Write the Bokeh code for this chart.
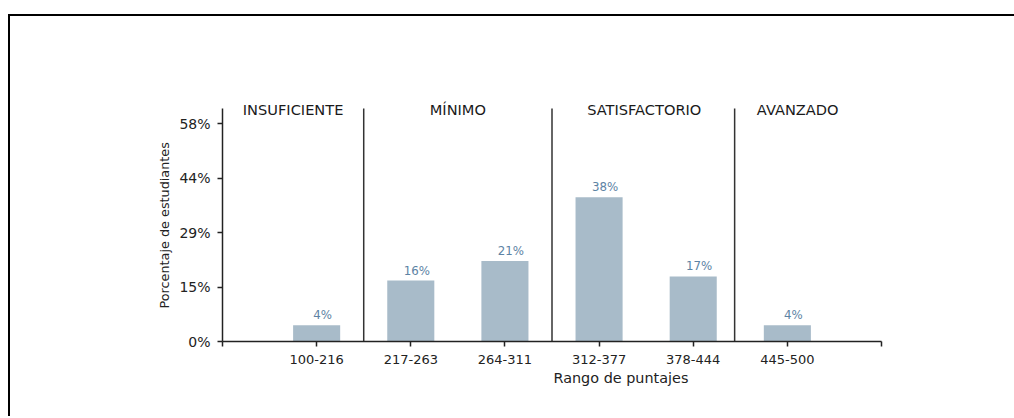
from bokeh.plotting import figure
from bokeh.models import ColumnDataSource, LabelSet, FixedTicker, Range1d, Title
from bokeh.core.properties import value
from bokeh.embed import file_html
from bokeh.resources import INLINE

# ---- data ----
score_ranges = ["100-216", "217-263", "264-311", "312-377", "378-444", "445-500"]
percentages = [4.3, 16.2, 21.4, 38.4, 17.3, 4.3]
levels = ["INSUFICIENTE", "MÍNIMO", "SATISFACTORIO", "AVANZADO"]
level_label_x = [-0.25, 1.5, 3.48, 5.11]
level_separators = [0.5, 2.5, 4.44]
y_ticks = [0, 14.5, 29, 43.5, 58]
y_tick_labels = ["0%", "15%", "29%", "44%", "58%"]
x_title = "Rango de puntajes"
y_title = "Porcentaje de estudiantes"

FONT = "DejaVu Sans"
Y_TOP = 62          # top of the axis spine / separators
Y_VIEW = 64.4       # visible range (room for level titles)
x_pos = list(range(len(score_ranges)))

src = ColumnDataSource(dict(
    x=x_pos,
    top=percentages,
    lbl=[f"{round(v)}%" for v in percentages],
))

p = figure(
    output_backend="svg", toolbar_location=None,
    frame_width=659, frame_height=242,
    min_border_left=212, min_border_right=133,
    min_border_top=83, min_border_bottom=75,
    x_range=Range1d(-1, 6), y_range=Range1d(0, Y_VIEW),
)
p.styles = {"border-top": "2px solid black", "border-left": "2px solid black",
            "margin-top": "14px", "margin-left": "8px"}
p.outline_line_color = None
p.xgrid.grid_line_color = None
p.ygrid.grid_line_color = None

p.vbar(x="x", top="top", width=0.5, source=src, fill_color="#a8bbc9",
       line_color=None)

p.add_layout(LabelSet(x="x", y="top", text="lbl", source=src, x_offset=6, y_offset=6,
                      text_align="center", text_baseline="alphabetic",
                      text_color="#5d83a4", text_font=value(FONT),
                      text_font_size="11.8px"))

p.segment(x0=level_separators, y0=[0] * len(level_separators),
          x1=level_separators, y1=[Y_TOP] * len(level_separators),
          line_color="#333333", line_width=1.5)

lsrc = ColumnDataSource(dict(x=level_label_x, y=[60.4] * len(levels), t=levels))
p.add_layout(LabelSet(x="x", y="y", text="t", source=lsrc, text_align="center",
                      text_baseline="alphabetic", text_color="#1a1a1a",
                      text_font=value(FONT), text_font_size="14.6px"))

# x axis
xticks = [-1] + x_pos + [len(score_ranges)]
p.xaxis.ticker = FixedTicker(ticks=xticks)
ov = {-1: "", len(score_ranges): ""}
ov.update({i: r for i, r in enumerate(score_ranges)})
p.xaxis.major_label_overrides = ov

# y axis
p.yaxis.ticker = FixedTicker(ticks=y_ticks)
p.yaxis.major_label_overrides = dict(zip(y_ticks, y_tick_labels))
p.yaxis.bounds = (0, Y_TOP)

for ax in (p.xaxis[0], p.yaxis[0]):
    ax.axis_line_color = "#222222"
    ax.axis_line_width = 1.5
    ax.major_tick_line_color = "#222222"
    ax.major_tick_line_width = 1.5
    ax.major_tick_out = 5
    ax.major_tick_in = 0
    ax.minor_tick_line_color = None
    ax.major_label_text_font = FONT
    ax.major_label_text_color = "#222222"

p.xaxis.major_label_text_font_size = "13px"
p.xaxis.major_label_standoff = 8
p.yaxis.major_label_text_font_size = "14px"
p.yaxis.major_label_standoff = 7

# axis titles as side titles (allow off-centre placement like the reference)
p.add_layout(Title(text=x_title, align="left", offset=331, standoff=2,
                   text_font=FONT, text_font_size="14.4px",
                   text_font_style="normal", text_color="#222222"), "below")
p.add_layout(Title(text=y_title, align="left", offset=33, standoff=10,
                   text_font=FONT, text_font_size="12.8px",
                   text_font_style="normal", text_color="#222222"), "left")

open("out.html", "w").write(file_html(p, INLINE))
